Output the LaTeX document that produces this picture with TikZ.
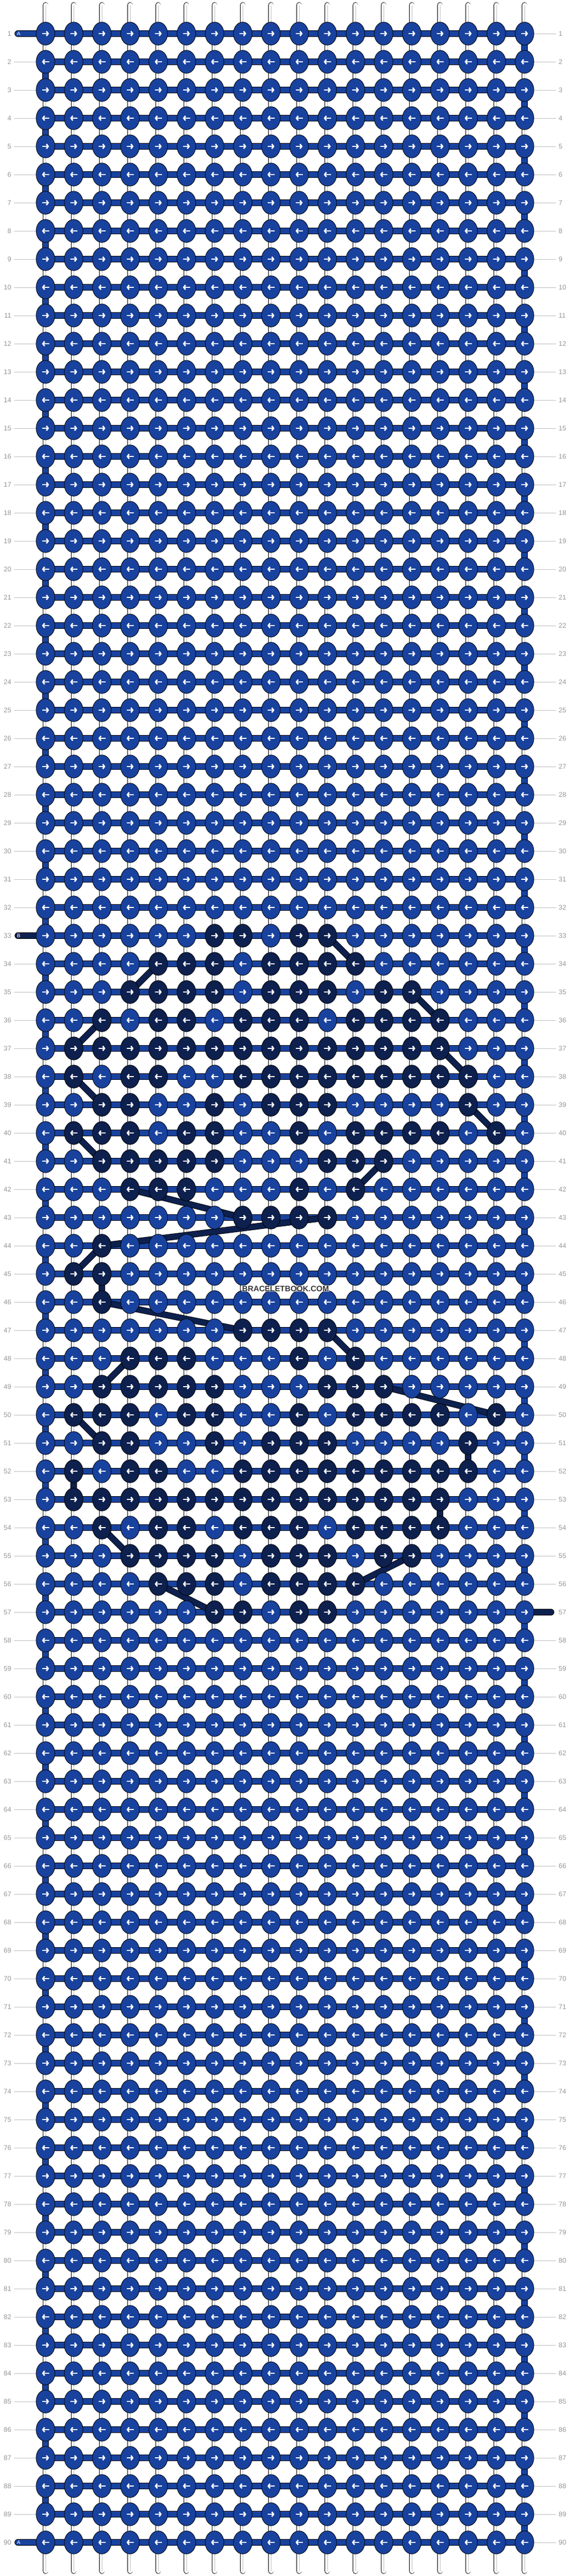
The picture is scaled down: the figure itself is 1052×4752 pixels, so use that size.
\documentclass[tikz,border=0pt]{standalone}
\usepackage{fontspec}
\setmainfont{Liberation Sans}
\usetikzlibrary{shapes.geometric,arrows.meta}

\definecolor{blueA}{RGB}{24,66,158}
\definecolor{darkB}{RGB}{13,32,78}
\definecolor{lblgray}{RGB}{150,150,150}
\definecolor{rulegray}{RGB}{192,192,192}

\pgfdeclarelayer{strands}
\pgfsetlayers{strands,main}

% one row of the chart: 1 = knot in colour B
\newcommand\setpat[2]{\expandafter\def\csname pat#1\endcsname{#2}}
\setpat{33}{0,0,0,0,0,0,1,1,0,1,1,0,0,0,0,0,0,0}
\setpat{34}{0,0,0,0,1,1,1,0,1,1,1,1,0,0,0,0,0,0}
\setpat{35}{0,0,0,1,1,1,1,0,1,1,1,0,1,1,0,0,0,0}
\setpat{36}{0,0,1,0,1,1,0,1,1,1,0,1,1,1,1,0,0,0}
\setpat{37}{0,1,1,1,1,1,1,1,1,1,1,1,1,1,1,0,0,0}
\setpat{38}{0,1,0,1,1,0,0,1,1,1,1,1,1,1,1,1,0,0}
\setpat{39}{0,0,1,1,0,0,1,0,1,1,1,0,0,0,0,1,0,0}
\setpat{40}{0,1,1,1,0,1,1,0,0,1,0,1,1,1,1,0,1,0}
\setpat{41}{0,0,1,1,1,1,1,0,0,0,1,1,1,0,0,0,0,0}
\setpat{42}{0,0,0,1,1,1,0,0,0,1,0,1,0,0,0,0,0,0}
\setpat{43}{0,0,0,0,0,0,0,1,1,1,1,0,0,0,0,0,0,0}
\setpat{44}{0,0,1,0,0,0,0,0,0,0,0,0,0,0,0,0,0,0}
\setpat{45}{0,1,1,0,0,0,0,0,0,0,0,0,0,0,0,0,0,0}
\setpat{46}{0,0,1,0,0,0,0,0,0,0,0,0,0,0,0,0,0,0}
\setpat{47}{0,0,0,0,0,0,0,1,1,1,1,0,0,0,0,0,0,0}
\setpat{48}{0,0,0,1,1,1,0,0,0,1,0,1,0,0,0,0,0,0}
\setpat{49}{0,0,1,1,1,1,1,0,0,0,1,1,1,0,0,0,0,0}
\setpat{50}{0,1,1,1,0,1,1,0,0,1,0,1,1,1,1,0,1,0}
\setpat{51}{0,0,1,1,0,0,1,0,1,1,1,0,0,0,0,1,0,0}
\setpat{52}{0,1,0,1,1,0,0,1,1,1,1,1,1,1,1,1,0,0}
\setpat{53}{0,1,1,1,1,1,1,1,1,1,1,1,1,1,1,0,0,0}
\setpat{54}{0,0,1,0,1,1,0,1,1,1,0,1,1,1,1,0,0,0}
\setpat{55}{0,0,0,1,1,1,1,0,1,1,1,0,1,1,0,0,0,0}
\setpat{56}{0,0,0,0,1,1,1,0,1,1,1,1,0,0,0,0,0,0}
\setpat{57}{0,0,0,0,0,0,1,1,0,1,1,0,0,0,0,0,0,0}

\tikzset{
  knot/.style={ellipse,draw=black,line width=0.9pt,minimum width=34.5pt,minimum height=42.5pt,inner sep=0pt},
  knotarrow/.style={white,line width=2.6pt,-{Straight Barb[length=3.2pt,width=8.5pt]}},
  warp/.style={double=white,double distance=9pt,line width=0.9pt,line cap=round},
  warpmid/.style={rulegray,line width=0.8pt},
  threadA/.style={double=blueA,double distance=10.4pt,line width=0.9pt},
  threadB/.style={double=darkB,double distance=10pt,line width=0.9pt},
  rowlabel/.style={text=lblgray,font=\fontsize{12.5}{12.5}\selectfont,inner sep=0pt},
  tick/.style={rulegray,line width=0.8pt},
  pinletter/.style={text=white,font=\fontsize{9.5}{9.5}\selectfont,inner sep=0pt}
}

\begin{document}
\begin{tikzpicture}[x=1pt,y=-1pt]
\useasboundingbox (0,0) rectangle (1052,4752);

% knots, arrows and row numbers
\foreach \r in {1,...,90}{
  \ifcsname pat\r\endcsname \edef\pat{\csname pat\r\endcsname}\else \def\pat{0,0,0,0,0,0,0,0,0,0,0,0,0,0,0,0,0,0}\fi
  \ifodd\r \def\dir{1}\else \def\dir{-1}\fi
  \foreach \v [count=\c] in \pat {
    \ifnum\v=1 \def\kc{darkB}\else \def\kc{blueA}\fi
    \node[knot,fill=\kc] (k-\r-\c) at ({84+52*(\c-1)},{62+52*(\r-1)}) {};
    \draw[knotarrow] (k-\r-\c.center) ++(-6.5*\dir,0) -- ++(13*\dir,0);
  }
  \node[rowlabel,anchor=east] (ll-\r) at (21,{62+52*(\r-1)}) {\r};
  \node[rowlabel,anchor=west] (lr-\r) at (1031,{62+52*(\r-1)}) {\r};
  \ifnum\r=1 \else\ifnum\r=33 \else\ifnum\r=90 \else
    \draw[tick] ([xshift=5pt]ll-\r.east) -- (k-\r-1.west);
  \fi\fi\fi
  \ifnum\r=57 \else \draw[tick] (k-\r-18.east) -- ([xshift=-5pt]lr-\r.west); \fi
}

\node[font=\bfseries\fontsize{14.5}{14.5}\selectfont,text=black!78,fill=white,fill opacity=.55,text opacity=1,inner sep=1pt] (wm) at (527,2377) {BRACELETBOOK.COM};

\begin{pgfonlayer}{strands}
  % warp threads
  \foreach \c in {1,...,18}{
    \coordinate (top-\c) at ({84+52*(\c-1)},9.5);
    \coordinate (bot-\c) at ({84+52*(\c-1)},4742.5);
    \draw[warp] (top-\c) -- (bot-\c);
    \draw[warpmid] (top-\c) -- (bot-\c);
  }
  % working thread A
  \foreach \r in {1,...,90} \draw[threadA] (k-\r-1.center) -- (k-\r-18.center);
  \foreach \r in {1,3,...,89}{ \pgfmathtruncatemacro\s{\r+1} \draw[threadA] (k-\r-18.center) -- (k-\s-18.center); }
  \foreach \r in {2,4,...,88}{ \pgfmathtruncatemacro\s{\r+1} \draw[threadA] (k-\r-1.center) -- (k-\s-1.center); }
  \coordinate (inA) at (33,62); \coordinate (outA) at (33,4690);
  \draw[threadA,line cap=round] (inA) -- (k-1-1.center);
  \draw[threadA,line cap=round] (outA) -- (k-90-1.center);
  % thread B
  \coordinate (inB) at (33,1726); \coordinate (outB) at (1017,2974);
  \draw[threadB,line cap=round] (inB) -- (k-33-1.center);
  \draw[threadB,line cap=round] (k-57-18.center) -- (outB);
  \foreach \ra/\ca/\rb/\cb in {33/11/34/12,34/5/35/4,35/14/36/15,36/3/37/2,37/15/38/16,38/2/39/3,
    39/16/40/17,40/2/41/3,41/13/42/12,42/4/43/8,43/11/44/3,44/3/45/2,45/3/46/3,46/3/47/8,47/11/48/12,
    48/4/49/3,49/13/50/17,50/2/51/3,51/16/52/16,52/2/53/2,53/15/54/15,54/3/55/4,55/14/56/12,56/5/57/7}
    \draw[threadB] (k-\ra-\ca.center) -- (k-\rb-\cb.center);
\end{pgfonlayer}
\node[pinletter] (pinA) at (34.5,62) {A};
\node[pinletter] (pinB) at (34.5,1726) {B};
\node[pinletter] (poutA) at (34.5,4690) {A};
\end{tikzpicture}
\end{document}
